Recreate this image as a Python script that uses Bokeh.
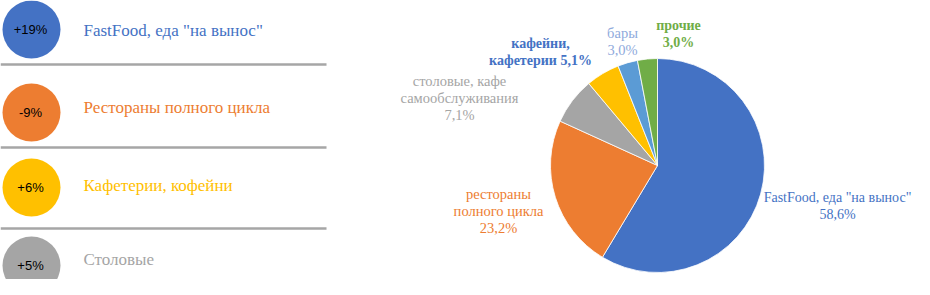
from bokeh.plotting import figure
from bokeh.models import Range1d
from bokeh.core.properties import value
from bokeh.embed import file_html
from bokeh.resources import INLINE
import math

# ---- data ----
growth_labels = ['FastFood, еда "на вынос"', "Рестораны полного цикла", "Кафетерии, кофейни", "Столовые"]
growth_values = [19, -9, 6, 5]
growth_colors = ["#4472c4", "#ed7d31", "#ffc000", "#a5a5a5"]

pie_names = ['FastFood, еда "на вынос"', "рестораны\nполного цикла", "столовые, кафе\nсамообслуживания",
             "кафейни,\nкафетерии", "бары", "прочие"]
pie_shares = [58.6, 23.2, 7.1, 5.1, 3.0, 3.0]
pie_colors = ["#4472c4", "#ed7d31", "#a5a5a5", "#ffc000", "#5b9bd5", "#70ad47"]
pie_label_colors = ["#4472c4", "#ed7d31", "#a5a5a5", "#4472c4", "#8faadc", "#70ad47"]
pie_label_bold = [False, False, False, True, False, True]
pie_share_inline = [False, False, False, True, False, False]

# ---- figure in page-pixel coordinates ----
W, H = 914, 279
p = figure(width=W, height=H, output_backend="svg", toolbar_location=None,
           x_range=Range1d(0, W), y_range=Range1d(0, H), min_border=0)
p.axis.visible = False
p.grid.visible = False
p.outline_line_color = None
p.background_fill_color = "white"

def Y(py):
    return H - py

SERIF = value("Times New Roman")

# ---- left panel ----
row_cy = [29, 112, 187, 265]
label_cy = [30, 107, 185, 259]
sep_y = [64, 147, 228]
for yy in sep_y:
    p.segment(x0=0, y0=Y(yy), x1=326, y1=Y(yy), line_color="#a6a6a6", line_width=2.5)

p.circle(x=[31] * len(growth_values), y=[Y(c) for c in row_cy], radius=29,
         fill_color=growth_colors, line_color=None)
p.text(x=[30] * len(growth_values), y=[Y(c) for c in row_cy],
       text=[("+%d%%" % v) if v > 0 else ("%d%%" % v) for v in growth_values],
       text_font=value("Liberation Sans"), text_font_size="13px", text_color="black",
       text_align="center", text_baseline="middle")
p.text(x=[83] * len(growth_labels), y=[Y(c) for c in label_cy], text=growth_labels,
       text_font=SERIF, text_font_size="17px", text_color=growth_colors,
       text_align="left", text_baseline="middle")

# ---- pie ----
cx, cy, r = 657, Y(165), 107
total = sum(pie_shares)
cum = 0.0
starts, ends = [], []
for s in pie_shares:
    a0 = math.pi / 2 - 2 * math.pi * cum / total
    cum += s
    a1 = math.pi / 2 - 2 * math.pi * cum / total
    starts.append(a1)
    ends.append(a0)
p.wedge(x=cx, y=cy, radius=r, start_angle=starts, end_angle=ends, direction="anticlock",
        fill_color=pie_colors, line_color="white", line_width=0.8)

label_pos = [(837, 197), (498, 193), (459, 80), (540, 43), (622, 32), (678, 25)]
label_size = ["14px", "14.5px", "14.5px", "14px", "14.5px", "14px"]
line_step = 17
for name, share, col, bold, inline, (lx, ly), fs in zip(pie_names, pie_shares, pie_label_colors,
                                                          pie_label_bold, pie_share_inline, label_pos,
                                                          label_size):
    pct = ("%.1f%%" % share).replace(".", ",")
    lines = name.split("\n")
    if inline:
        lines[-1] = lines[-1] + " " + pct
    else:
        lines.append(pct)
    p.text(x=[lx] * len(lines), y=[Y(ly + i * line_step) for i in range(len(lines))], text=lines,
           text_font=SERIF, text_font_size=fs, text_color=col,
           text_font_style="bold" if bold else "normal",
           text_align="center", text_baseline="middle")

open("out.html", "w").write(file_html(p, INLINE))
